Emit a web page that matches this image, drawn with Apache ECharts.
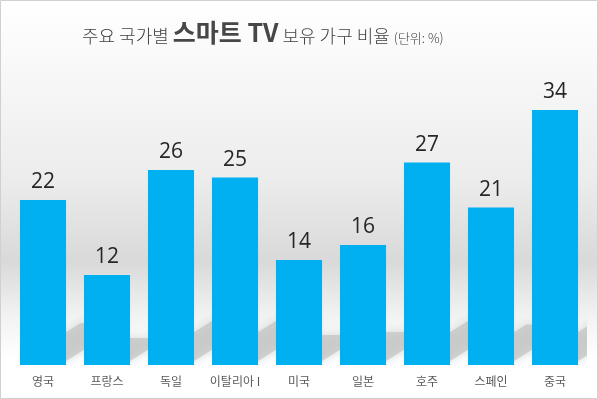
<!DOCTYPE html>
<html>
<head>
<meta charset="utf-8">
<script src="https://cdn.jsdelivr.net/npm/echarts@6/dist/echarts.min.js"></script>
<style>
html,body{margin:0;padding:0;background:#fff;}
#c{width:598px;height:399px;}
</style>
</head>
<body>
<div id="c"></div>
<script>
const categories = ['영국', '프랑스', '독일', '이탈리아 I', '미국', '일본', '호주', '스페인', '중국'];
const values = [22, 12, 26, 25, 14, 16, 27, 21, 34];

const chart = echarts.init(document.getElementById('c'));
const shadowData = values.map((v, i) => [i, v]);

chart.setOption({
  animation: false,
  backgroundColor: {
    type: 'linear', x: 0, y: 0, x2: 0, y2: 1,
    colorStops: [
      {offset: 0, color: '#ffffff'},
      {offset: 0.15, color: '#f9f9f9'},
      {offset: 0.45, color: '#ececec'},
      {offset: 0.655, color: '#d9d9d9'},
      {offset: 0.79, color: '#f2f2f2'},
      {offset: 0.9, color: '#ffffff'},
      {offset: 1, color: '#ffffff'}
    ]
  },
  title: {
    left: 77, top: 15,
    text: '{a|주요 국가별 }{b|스마트 TV}{a| 보유 가구 비율 }{c|(단위: %)}',
    textStyle: {
      rich: {
        a: {fontFamily: 'Noto Sans CJK KR', fontSize: 18, fontWeight: 300, color: '#3f3f3f', verticalAlign: 'bottom'},
        b: {fontFamily: 'Noto Sans CJK KR', fontSize: 25, fontWeight: 'bold', color: '#474747', verticalAlign: 'bottom'},
        c: {fontFamily: 'Noto Sans CJK KR', fontSize: 13, fontWeight: 300, color: '#3f3f3f', verticalAlign: 'bottom'}
      }
    }
  },
  graphic: [{
    type: 'rect', z: 100, silent: true,
    shape: {x: 0.5, y: 0.5, width: 597, height: 398},
    style: {fill: 'none', stroke: '#d0d0d0', lineWidth: 1}
  }],
  grid: {left: 11, right: 11, top: 65, bottom: 34},
  xAxis: {
    type: 'category', data: categories,
    axisLine: {show: false}, axisTick: {show: false},
    axisLabel: {interval: 0, fontFamily: 'Noto Sans CJK KR', fontSize: 12, color: '#595959', margin: 10}
  },
  yAxis: {type: 'value', min: 0, max: 40, show: false, splitLine: {show: false}},
  series: [
    {
      type: 'custom', z: 1, clip: true, silent: true,
      data: shadowData,
      renderItem: function (params, api) {
        const i = api.value(0), v = api.value(1);
        const top = api.coord([i, v]);
        const base = api.coord([i, 0]);
        const band = api.size([1, 0])[0];
        const w = band * 0.72;
        const h = base[1] - top[1];
        const H = Math.min(0.2 * h + 5, 40);
        const d = H * 1.6;
        const x0 = base[0] - w / 2, x1 = base[0] + w / 2, B = base[1] - 4;
        return {
          type: 'polygon',
          shape: {points: [[x0, B], [x1, B], [x1 + d, B - H], [x0 + d, B - H]]},
          style: {fill: 'rgba(195,195,195,0.7)', shadowBlur: 10, shadowColor: 'rgba(170,170,170,0.6)'}
        };
      }
    },
    {
      type: 'bar', z: 2, data: values,
      barCategoryGap: '28%',
      itemStyle: {color: '#00B0F0'},
      label: {
        show: true, position: 'top', distance: 7,
        fontFamily: 'Open Sans', fontSize: 21, color: '#262626'
      }
    }
  ]
});
</script>
</body>
</html>
